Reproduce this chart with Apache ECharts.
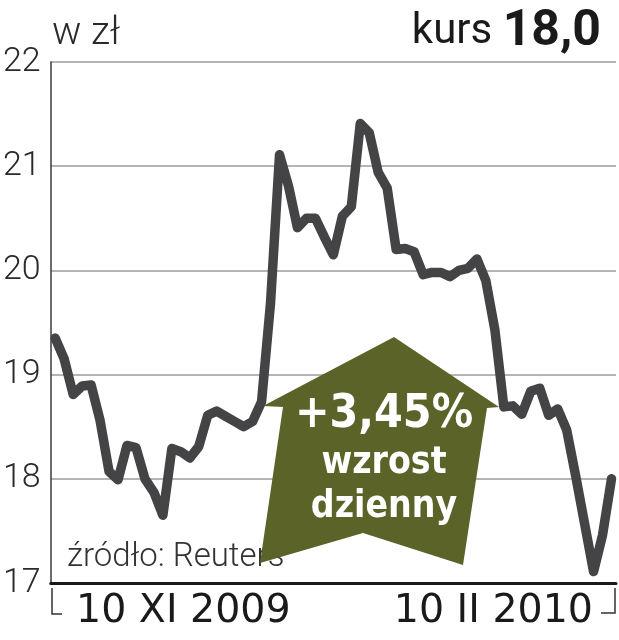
<!DOCTYPE html>
<html>
<head>
<meta charset="utf-8">
<script src="https://cdn.jsdelivr.net/npm/echarts@6/dist/echarts.min.js"></script>
<style>
  html, body { margin: 0; padding: 0; background: #fff; }
  #kursChart { width: 619px; height: 640px; }
</style>
</head>
<body>
<div id="kursChart"></div>
<script>
// sesje od 10 XI 2009 do 10 II 2010
var days = [
  '10.11', '12.11', '13.11', '16.11', '17.11', '18.11', '19.11', '20.11', '23.11', '24.11',
  '25.11', '26.11', '27.11', '30.11', '01.12', '02.12', '03.12', '04.12', '07.12', '08.12',
  '09.12', '10.12', '11.12', '14.12', '15.12', '16.12', '17.12', '18.12', '21.12', '22.12',
  '23.12', '28.12', '29.12', '30.12', '31.12', '04.01', '05.01', '06.01', '07.01', '08.01',
  '11.01', '12.01', '13.01', '14.01', '15.01', '18.01', '19.01', '20.01', '21.01', '22.01',
  '25.01', '26.01', '27.01', '28.01', '29.01', '01.02', '02.02', '03.02', '04.02', '05.02',
  '08.02', '09.02', '10.02'
];

// kurs zamkniecia w zl
var kurs = [
  19.35, 19.15, 18.81, 18.89, 18.90, 18.56, 18.07, 17.99, 18.32, 18.30,
  18.00, 17.87, 17.65, 18.29, 18.26, 18.20, 18.31, 18.61, 18.65, 18.60,
  18.55, 18.50, 18.55, 18.74, 19.69, 21.11, 20.81, 20.41, 20.50, 20.50,
  20.32, 20.15, 20.52, 20.61, 21.41, 21.32, 20.94, 20.79, 20.20, 20.21,
  20.18, 19.96, 19.98, 19.98, 19.94, 20.00, 20.02, 20.11, 19.90, 19.43,
  18.69, 18.70, 18.62, 18.84, 18.87, 18.61, 18.67, 18.47, 18.03, 17.57,
  17.11, 17.46, 18.00
];

var yTicks = [17, 18, 19, 20, 21, 22];
var dateLabels = ['10 XI 2009', '10 II 2010'];
var lastKurs = '18,0';
var zmiana = '+3,45%';

var chart = echarts.init(document.getElementById('kursChart'));

var olive = '#5b6328';
var cond = '"DejaVu Sans Condensed", "DejaVu Sans", sans-serif';
var robo = 'Roboto, "DejaVu Sans", sans-serif';
var wide = '"DejaVu Sans", sans-serif';

var option = {
  backgroundColor: '#fff',
  animation: false,
  grid: { left: 47, right: 3, top: 62, bottom: 57 },
  xAxis: {
    type: 'category',
    data: days,
    boundaryGap: true,
    axisLine: { show: true, lineStyle: { color: '#1a1a1a', width: 3 } },
    axisTick: { show: false },
    axisLabel: { show: false },
    splitLine: { show: false }
  },
  yAxis: {
    type: 'value',
    min: yTicks[0],
    max: yTicks[yTicks.length - 1],
    interval: 1,
    axisLine: { show: true, lineStyle: { color: '#3a3a3a', width: 1.5 } },
    axisTick: { show: false },
    axisLabel: {
      margin: 10,
      color: '#2a2a2a',
      fontSize: 34,
      fontFamily: robo,
      fontWeight: 300
    },
    splitLine: { show: true, lineStyle: { color: '#9c9c9c', width: 1.5 } }
  },
  series: [{
    type: 'line',
    data: kurs,
    symbol: 'none',
    z: 3,
    lineStyle: { color: '#444446', width: 9.5, cap: 'round', join: 'round' }
  }],
  graphic: [
    {
      type: 'text', left: 52, top: 15, z: 5,
      style: { text: 'w zł', fill: '#2a2a2a', fontSize: 39, fontFamily: robo, fontWeight: 300 }
    },
    {
      type: 'text', right: 18, top: 7, z: 5,
      style: {
        text: '{a|kurs }{b|' + lastKurs + '}',
        rich: {
          a: { fill: '#1a1a1a', fontSize: 42, fontFamily: robo },
          b: { fill: '#1a1a1a', fontSize: 50, fontWeight: 'bold', fontFamily: robo }
        }
      }
    },
    {
      type: 'text', left: 67, top: 541, z: 1,
      style: { text: 'źródło: Reuters', fill: '#333', fontSize: 33, fontFamily: robo, fontWeight: 300 }
    },
    {
      // strzalka ze zmiana dzienna
      type: 'polygon', z: 2,
      shape: { points: [[263, 406], [394, 337], [499, 407], [487, 408], [463, 565], [363, 533], [260, 563], [283, 407]] },
      style: { fill: olive }
    },
    {
      type: 'text', x: 384, y: 392, z: 6,
      style: { text: zmiana, fill: '#fff', fontSize: 46, fontWeight: 'bold', fontFamily: cond, align: 'center' }
    },
    {
      type: 'text', x: 384, y: 445, z: 6,
      style: { text: 'wzrost', fill: '#fff', fontSize: 37, fontWeight: 'bold', fontFamily: cond, align: 'center' }
    },
    {
      type: 'text', x: 384, y: 489, z: 6,
      style: { text: 'dzienny', fill: '#fff', fontSize: 37, fontWeight: 'bold', fontFamily: cond, align: 'center' }
    },
    // znaczniki dat pod osia
    {
      type: 'polyline', z: 5,
      shape: { points: [[52, 588], [52, 614], [62, 614]] },
      style: { stroke: '#333', lineWidth: 1.5, fill: null }
    },
    {
      type: 'text', left: 76, top: 592, z: 5,
      style: { text: dateLabels[0], fill: '#1a1a1a', fontSize: 39.5, fontFamily: wide }
    },
    {
      type: 'polyline', z: 5,
      shape: { points: [[601, 613], [615, 613], [615, 588]] },
      style: { stroke: '#333', lineWidth: 1.5, fill: null }
    },
    {
      type: 'text', right: 26, top: 592, z: 5,
      style: { text: dateLabels[1], fill: '#1a1a1a', fontSize: 39.5, fontFamily: wide }
    }
  ]
};

chart.setOption(option);
</script>
</body>
</html>
